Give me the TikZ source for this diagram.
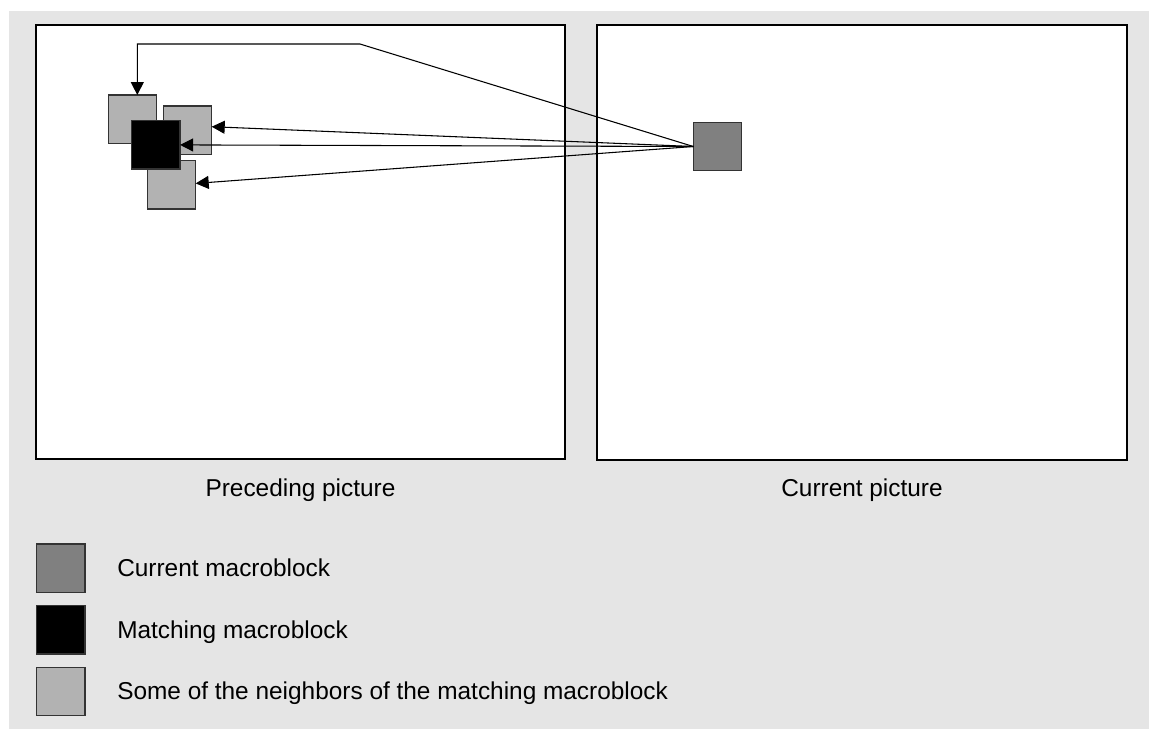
\documentclass[tikz,border=0pt]{standalone}
\usepackage{fontspec}
\setmainfont{Liberation Sans}
\usetikzlibrary{arrows.meta,calc}
\definecolor{bggray}{RGB}{229,229,229}
\definecolor{nbrgray}{RGB}{178,178,178}
\definecolor{curgray}{RGB}{128,128,128}
\definecolor{edgegray}{RGB}{51,51,51}
\tikzset{
  mb/.style={draw=edgegray, line width=1pt, minimum width=36.3pt, minimum height=36.3pt,
             inner sep=0pt, outer sep=0pt, anchor=north west},
  nbr/.style={mb, fill=nbrgray},
  match/.style={mb, fill=black},
  curmb/.style={mb, fill=curgray},
  panel/.style={draw=black, line width=1.1pt, fill=white, anchor=north west,
                inner sep=0pt, outer sep=0pt},
  lbl/.style={font=\fontsize{18.3pt}{22pt}\selectfont, inner sep=0pt},
  link/.style={draw=black, line width=0.8pt, -{Triangle[length=9.75pt,width=9.75pt]}},
}
\begin{document}
\begin{tikzpicture}[x=0.75pt,y=-0.75pt]
\useasboundingbox (0,0) rectangle (1149,729);
\fill[bggray] (9,11) rectangle (1149,729);

% the two pictures
\node[panel, minimum width=396.75pt, minimum height=325.5pt] (prev) at (36,25) {};
\node[panel, minimum width=397.5pt, minimum height=326.25pt] (curpic) at (597,25) {};
\node[lbl, anchor=base] (prevlbl) at (300.5,496.5) {Preceding picture};
\node[lbl, anchor=base] (curlbl) at (862,496.5) {Current picture};

% macroblocks in the preceding picture
\node[nbr] (nA) at (108.3,95) {};
\node[nbr] (nB) at (163.3,106) {};
\node[nbr] (nC) at (147.3,160.7) {};
\node[match] (m) at (131.7,120.7) {};

% current macroblock
\node[curmb] (c) at (693.3,122.3) {};

% search links
\coordinate (k1) at (360,44);
\coordinate (k2) at (137.3,44);
\draw[link] (c.west) -- (k1) -- (k2) -- (k2 |- nA.north);
\draw[link] (c.west) -- ($(nB.east)+(0,-3.5)$);
\draw[link] (c.west) -- (m.east);
\draw[link] (c.west) -- ($(nC.east)+(0,-1.5)$);

% legend
\node[curmb] (keycur) at (36.7,544) {};
\node[match] (keymatch) at (36.7,605.7) {};
\node[nbr] (keynbr) at (36.7,667.3) {};
\node[lbl, anchor=base west] (txtcur) at (117,576) {Current macroblock};
\node[lbl, anchor=base west] (txtmatch) at (117,638) {Matching macroblock};
\node[lbl, anchor=base west] (txtnbr) at (117,699.5) {Some of the neighbors of the matching macroblock};
\end{tikzpicture}
\end{document}
